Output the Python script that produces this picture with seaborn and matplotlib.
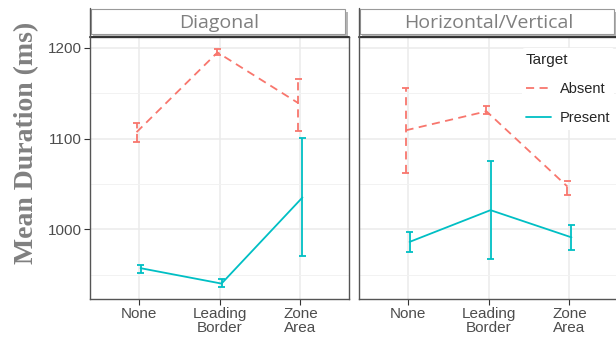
import numpy as np
import pandas as pd
import seaborn as sns
import matplotlib.pyplot as plt
from matplotlib.patches import Rectangle
from matplotlib.lines import Line2D

# Data (means and error bar limits, ms)
conditions = ['None', 'Leading\nBorder', 'Zone\nArea']
panels = ['Diagonal', 'Horizontal/Vertical']
targets = ['Absent', 'Present']

diag_absent = [1107, 1195, 1139]
diag_absent_lo = [1096, 1192, 1108]
diag_absent_hi = [1117, 1199, 1166]
diag_present = [957, 940, 1035]
diag_present_lo = [952, 936, 970]
diag_present_hi = [961, 945, 1101]

hv_absent = [1109, 1130, 1047]
hv_absent_lo = [1062, 1127, 1038]
hv_absent_hi = [1156, 1136, 1053]
hv_present = [986, 1021, 991]
hv_present_lo = [975, 967, 977]
hv_present_hi = [997, 1075, 1005]

palette = {'Absent': '#F8766D', 'Present': '#00BFC4'}
dodge = {'Absent': -0.025, 'Present': 0.025}

#%%
rows = []
series = {
    ('Diagonal', 'Absent'): (diag_absent, diag_absent_lo, diag_absent_hi),
    ('Diagonal', 'Present'): (diag_present, diag_present_lo, diag_present_hi),
    ('Horizontal/Vertical', 'Absent'): (hv_absent, hv_absent_lo, hv_absent_hi),
    ('Horizontal/Vertical', 'Present'): (hv_present, hv_present_lo, hv_present_hi),
}
for (panel, target), (m, lo, hi) in series.items():
    for i, cond in enumerate(conditions):
        rows.append({'panel': panel, 'target': target, 'cond': cond,
                     'x': i + dodge[target], 'mean': m[i], 'lo': lo[i], 'hi': hi[i]})
df = pd.DataFrame(rows)

#%%
sns.set_style('white')
plt.rcParams['font.family'] = ['Liberation Sans', 'DejaVu Sans']

fig = plt.figure(figsize=(6.16, 3.41), dpi=100)
W, H = 616, 341
panel_x = [90, 359]
panel_w = 259
top, bottom = 37, 299
strip_top = 8
lw = 1.3
dash = (0, (4.5, 3))

axes = []
for k, panel in enumerate(panels):
    ax = fig.add_axes([panel_x[k] / W, 1 - bottom / H, panel_w / W, (bottom - top) / H])
    axes.append(ax)
    sub = df[df.panel == panel]
    sns.lineplot(data=sub, x='x', y='mean', hue='target', style='target',
                 palette=palette, dashes={'Absent': (4.5, 3), 'Present': ''},
                 linewidth=lw, legend=False, ax=ax, zorder=3)
    for target in targets:
        s = sub[sub.target == target]
        ls = dash if target == 'Absent' else '-'
        ax.vlines(s['x'], s['lo'], s['hi'], color=palette[target], lw=lw, linestyles=[ls], zorder=3)
        for col in ['lo', 'hi']:
            ax.hlines(s[col], s['x'] - 0.045, s['x'] + 0.045, color=palette[target], lw=lw,
                      linestyles=[ls], zorder=3)

    ax.set_xlim(-0.6, 2.6)
    ax.set_ylim(923, 1212)
    ax.set_xticks(range(len(conditions)))
    ax.set_xticklabels(conditions, fontsize=11, color='#4d4d4d', linespacing=0.95)
    ax.set_yticks([1000, 1100, 1200])
    ax.set_yticks([950, 1050, 1150], minor=True)
    ax.grid(True, which='major', color='#ebebeb', lw=1.1, zorder=0)
    ax.grid(True, which='minor', axis='y', color='#f2f2f2', lw=0.7, zorder=0)
    ax.set_axisbelow(True)
    ax.set_xlabel('')
    ax.set_ylabel('')
    for sp in ax.spines.values():
        sp.set_color('#555555')
        sp.set_linewidth(1.0)
    ax.tick_params(axis='x', bottom=True, length=4, width=0.8, color='#333333', pad=2)
    if k == 0:
        ax.tick_params(axis='y', left=True, length=4, width=0.8, color='#333333',
                       labelsize=11, labelcolor='#4d4d4d', pad=2)
    else:
        ax.tick_params(axis='y', left=False, labelleft=False)

    # strip with a shadowed label box
    sax = fig.add_axes([panel_x[k] / W, 1 - top / H, panel_w / W, (top - strip_top) / H])
    sax.set_xlim(0, 1)
    sax.set_ylim(0, 1)
    sax.axis('off')
    sax.add_patch(Rectangle((0.012, 0.0), 0.985, 0.86, facecolor='#b5b5b5', edgecolor='none'))
    sax.add_patch(Rectangle((0.005, 0.1), 0.98, 0.86, facecolor='white', edgecolor='#9a9a9a', lw=0.8))
    sax.plot([0, 1], [0, 0], color='#333333', lw=1.4, clip_on=False)
    sax.plot([0, 0], [0, 1], color='#555555', lw=1.0, clip_on=False)
    sax.text(0.5, 0.48, panel, ha='center', va='center', fontsize=14,
             color='#7f7f7f', family=['Open Sans', 'DejaVu Sans'])

fig.text(27 / W, 1 - 143 / H, 'Mean Duration (ms)', rotation=90, ha='center', va='center',
         fontsize=20, fontweight='bold', color='#808080', family=['Liberation Serif', 'DejaVu Serif'])

handles = [Line2D([], [], color=palette['Absent'], lw=lw, ls=dash),
           Line2D([], [], color=palette['Present'], lw=lw)]
leg = axes[1].legend(handles, targets, title='Target', loc='upper left',
                     bbox_to_anchor=(0.6, 0.985), frameon=True, facecolor='white',
                     edgecolor='none', fontsize=10.5, title_fontsize=11,
                     labelspacing=1.05, handlelength=1.7, handletextpad=0.6,
                     borderpad=0.3, framealpha=1)
leg._legend_box.align = 'left'

fig.savefig('out.png', dpi=100)
